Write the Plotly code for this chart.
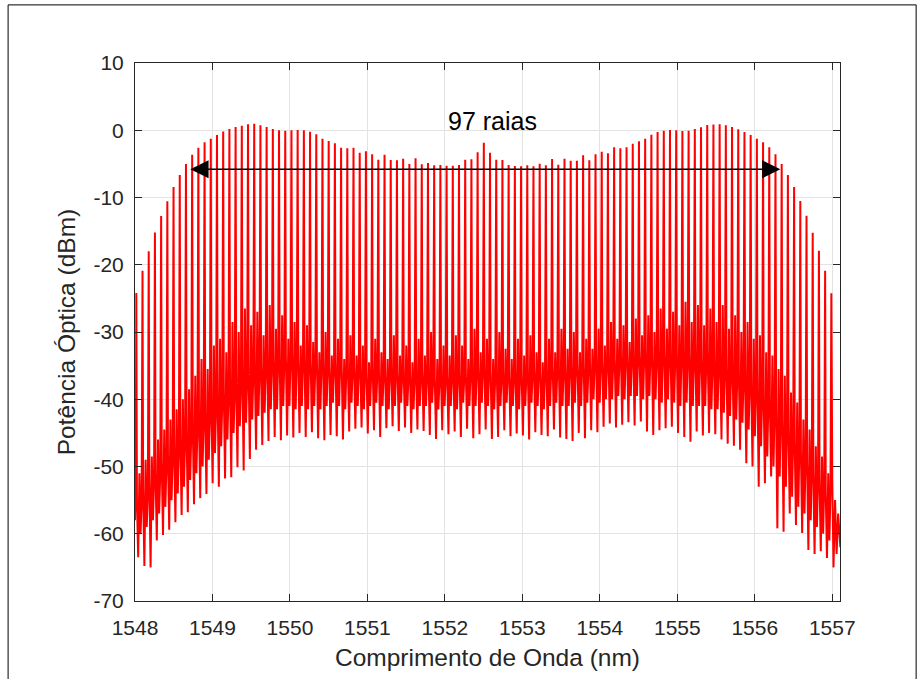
import numpy as np
import plotly.graph_objects as go

# ---- data ----
LINE_START_NM = 1548.017      # first comb line
LINE_SPACING_NM = 0.0801      # comb spacing (10 GHz)

PEAK_DBM = [
    -24.2, -20.9, -18.0, -15.2, -12.75, -10.57, -8.44, -6.65, -5.0, -3.63,
    -2.59, -1.8, -1.26, -0.7, -0.2, 0.19, 0.48, 0.68, 0.88, 0.98,
    0.73, 0.48, 0.19, -0.01, -0.06, -0.01, 0.04, -0.01, -0.21, -0.61,
    -1.25, -1.6, -1.95, -2.59, -2.69, -2.59, -3.33, -3.13, -3.58, -4.37,
    -3.63, -4.42, -4.47, -4.23, -5.02, -4.18, -5.07, -4.87, -5.22, -5.17,
    -5.27, -5.27, -5.17, -4.37, -4.32, -3.28, -1.85, -3.33, -4.37, -4.42,
    -5.17, -5.32, -5.37, -5.22, -5.37, -4.97, -5.22, -4.28, -5.12, -4.23,
    -4.52, -4.52, -3.73, -4.47, -3.58, -3.18, -3.43, -2.54, -2.69, -2.54,
    -2.0, -1.65, -1.25, -0.66, -0.26, -0.06, 0.04, -0.01, -0.11, -0.06,
    0.19, 0.43, 0.78, 0.85, 0.88, 0.73, 0.48, 0.14, -0.26, -0.71,
    -1.25, -1.8, -2.54, -3.58, -5.02, -6.65, -8.44, -10.52, -12.7, -15.23,
    -17.9, -20.88, -24.25,
]

# level just beside each line (top of the dense band)
SHOULDER_DBM = [
    -55, -54, -52, -51, -49.5, -48.5, -47, -46, -45, -44,
    -43, -42, -41, -40, -39, -38.5, -37.5, -37, -36, -35.5,
    -35, -34.5, -34, -34, -33.5, -33.5, -34, -34, -34.5, -34,
    -34.5, -35, -34.5, -35, -35.5, -35, -35.5, -36, -35.5, -36,
    -36, -35.5, -36, -36.5, -36, -36.5, -36, -36.5, -37, -36.5,
    -36.5, -36, -36.5, -36, -35.5, -35, -35.5, -36, -36.5, -36,
    -36.5, -36, -36.5, -36, -35.5, -36, -35.5, -35, -35.5, -35,
    -35, -34.5, -35, -34.5, -34, -34.5, -34, -34, -33.5, -33.5,
    -33.5, -33, -33, -33.5, -33, -33, -33.5, -33, -33, -33.5,
    -34, -34, -34.5, -34.5, -35, -35.5, -36, -36.5, -37, -38,
    -39, -40, -41, -42, -43.5, -45, -46.5, -48, -49.5, -51,
    -52.5, -54,
]

# deepest point between two lines
FLOOR_DBM = [
    -63.5, -64.8, -65.0, -61.0, -60.2, -59.4, -58.3, -57.2, -56.8, -55.6,
    -54.7, -54.1, -52.5, -53.0, -51.8, -51.6, -50.1, -50.6, -48.9, -47.5,
    -46.8, -46.2, -45.6, -46.1, -45.4, -45.7, -45.0, -45.6, -44.9, -45.8,
    -46.1, -45.3, -45.5, -46.0, -44.8, -44.4, -44.2, -45.1, -44.6, -45.6,
    -44.3, -44.0, -44.7, -44.2, -45.0, -44.5, -44.7, -45.3, -45.9, -44.6,
    -45.2, -44.8, -45.6, -44.4, -45.8, -45.2, -44.5, -45.9, -45.6, -44.6,
    -45.5, -45.1, -45.4, -46.0, -44.9, -45.3, -45.5, -44.5, -45.7, -45.9,
    -46.2, -45.0, -45.8, -44.6, -44.9, -44.1, -43.6, -44.2, -43.8, -43.4,
    -43.9, -43.3, -44.8, -45.3, -44.6, -44.3, -44.1, -45.0, -45.6, -46.3,
    -44.8, -45.4, -45.0, -45.2, -46.0, -46.6, -46.9, -47.5, -49.5, -50.0,
    -53.0, -52.5, -51.5, -59.2, -59.7, -57.0, -58.7, -59.9, -62.4, -63.0,
    -62.6, -63.6,
]

# secondary peak between two lines
SUB_DBM = [
    -51, -49, -48.5, -46, -44.5, -43, -41.5, -40, -38.5, -36.5,
    -34, -35.5, -32, -31, -33, -28.5, -30, -26.5, -29, -27,
    -30.5, -26, -29.5, -27.5, -31, -28.5, -32, -29, -31.5, -33,
    -30, -33.5, -31, -34, -30.5, -33.5, -32, -34.5, -31, -33,
    -34, -30.5, -33.5, -32, -34.5, -31, -33.5, -30, -34, -32,
    -33.5, -30.5, -32, -34, -29.5, -33, -31, -34, -30, -32.5,
    -34, -31, -33.5, -30.5, -33, -34.5, -31, -33, -29.5, -32.5,
    -30, -33, -31, -32.5, -29.5, -32, -28.5, -31, -29, -31.5,
    -28, -30.5, -27.5, -30, -26.5, -29.5, -27, -29, -25.5, -28.5,
    -26, -29, -26.5, -28.5, -26, -29.5, -27.5, -30, -28.5, -31,
    -30.5, -33, -33.5, -35.5, -36.5, -39, -40.5, -43, -44.5, -47,
    -48.5, -51,
]

# lower edge of the dense band between two lines
BAND_LOW_DBM = [
    -60, -59, -58, -57, -56, -55, -54, -53, -52, -51,
    -50, -49, -48, -47, -46, -45, -44, -43.5, -43, -42.5,
    -42, -41.5, -41.5, -41, -41, -41.5, -41, -41.5, -41, -41.5,
    -41, -40.5, -41, -41.5, -40.5, -41, -41.5, -41, -40.5, -41,
    -41.5, -41, -40.5, -41, -41.5, -41, -41, -40.5, -41.5, -41,
    -41, -41.5, -40.5, -41, -41, -40.5, -41, -41.5, -41, -40.5,
    -41, -41.5, -41, -40.5, -41, -41.5, -41, -40.5, -41, -41,
    -40.5, -41, -40.5, -40, -40.5, -40, -40, -39.5, -40, -39.5,
    -39.5, -40, -39.5, -40, -40.5, -40, -40.5, -41, -40.5, -41,
    -41, -41, -41.5, -41.5, -42, -42.5, -43, -43.5, -44.5, -45.5,
    -47, -48.5, -50, -51.5, -53, -54.5, -56, -57, -58, -59,
    -60, -61,
]

HEAD_DBM = [-58, -50]                       # before the first line
TAIL_DBM = [-52, -65, -55, -63, -57, -62]   # after the last line

TICKS_X = [1548, 1549, 1550, 1551, 1552, 1553, 1554, 1555, 1556, 1557]
TICKS_Y = [-70, -60, -50, -40, -30, -20, -10, 0, 10]

ARROW_LEFT_NM, ARROW_RIGHT_NM, ARROW_DBM = 1548.695, 1556.33, -5.8
LABEL_TEXT = "97 raias"
LABEL_NM, LABEL_DBM = 1552.62, 1.4

FONT = "Liberation Sans, Arial, Helvetica"
INK = "#262626"

# ---- build the trace (shape of one period between lines) ----
d = LINE_SPACING_NM
lines_nm = LINE_START_NM + d * np.arange(len(PEAK_DBM))
xs, ys = [], []
xs += [1548.0, lines_nm[0] - 0.08 * d]
ys += HEAD_DBM
for i in range(len(PEAK_DBM) - 1):
    x0 = lines_nm[i]
    xs += [x0, x0 + 0.1 * d, x0 + 0.3 * d, x0 + 0.5 * d, x0 + 0.68 * d, x0 + 0.86 * d]
    ys += [PEAK_DBM[i], SHOULDER_DBM[i], FLOOR_DBM[i], SUB_DBM[i],
           BAND_LOW_DBM[i], SHOULDER_DBM[i]]
xl = lines_nm[-1]
xs += [xl]
ys += [PEAK_DBM[-1]]
for off, v in zip([0.15, 0.35, 0.6, 0.85, 1.1, 1.45], TAIL_DBM):
    xs.append(xl + off * d)
    ys.append(v)

fig = go.Figure()
fig.add_trace(go.Scatter(x=xs, y=ys, mode="lines",
                         line=dict(color="#ff0000", width=2),
                         hoverinfo="skip", showlegend=False))

axis_common = dict(showline=True, linecolor=INK, linewidth=1, mirror="ticks",
                   ticks="inside", ticklen=7, tickcolor=INK,
                   showgrid=True, gridcolor="#e3e3e3", gridwidth=1, zeroline=False,
                   tickfont=dict(family=FONT, size=21, color=INK))

fig.update_xaxes(range=[1548, 1557.1], tickvals=TICKS_X,
                 ticktext=[str(t) for t in TICKS_X], ticklabelstandoff=8,
                 title=dict(text="Comprimento de Onda (nm)", standoff=10,
                            font=dict(family=FONT, size=24.5, color=INK)),
                 **axis_common)
fig.update_yaxes(range=[-70, 10], tickvals=TICKS_Y,
                 ticktext=[str(t) for t in TICKS_Y], ticklabelstandoff=6,
                 title=dict(text="Potência Óptica (dBm)", standoff=10,
                            font=dict(family=FONT, size=24.5, color=INK)),
                 **axis_common)

fig.add_annotation(x=ARROW_RIGHT_NM, y=ARROW_DBM, ax=ARROW_LEFT_NM, ay=ARROW_DBM,
                   xref="x", yref="y", axref="x", ayref="y", text="",
                   showarrow=True, arrowhead=2, arrowside="end+start",
                   arrowsize=2.8, arrowwidth=1.3, arrowcolor="#000000",
                   standoff=0, startstandoff=0)
fig.add_annotation(x=LABEL_NM, y=LABEL_DBM, xref="x", yref="y", text=LABEL_TEXT,
                   showarrow=False,
                   font=dict(family=FONT, size=25, color="#000000"))

# outer figure frame
fig.add_shape(type="rect", xref="paper", yref="paper",
              x0=-0.18, x1=1.108, y0=-0.2, y1=1.108,
              line=dict(color="#000000", width=1), fillcolor="rgba(0,0,0,0)", layer="below")

fig.update_layout(width=922, height=679, paper_bgcolor="white", plot_bgcolor="white",
                  margin=dict(l=135, r=82, t=63, b=78), showlegend=False)

fig.write_html("out.html")
